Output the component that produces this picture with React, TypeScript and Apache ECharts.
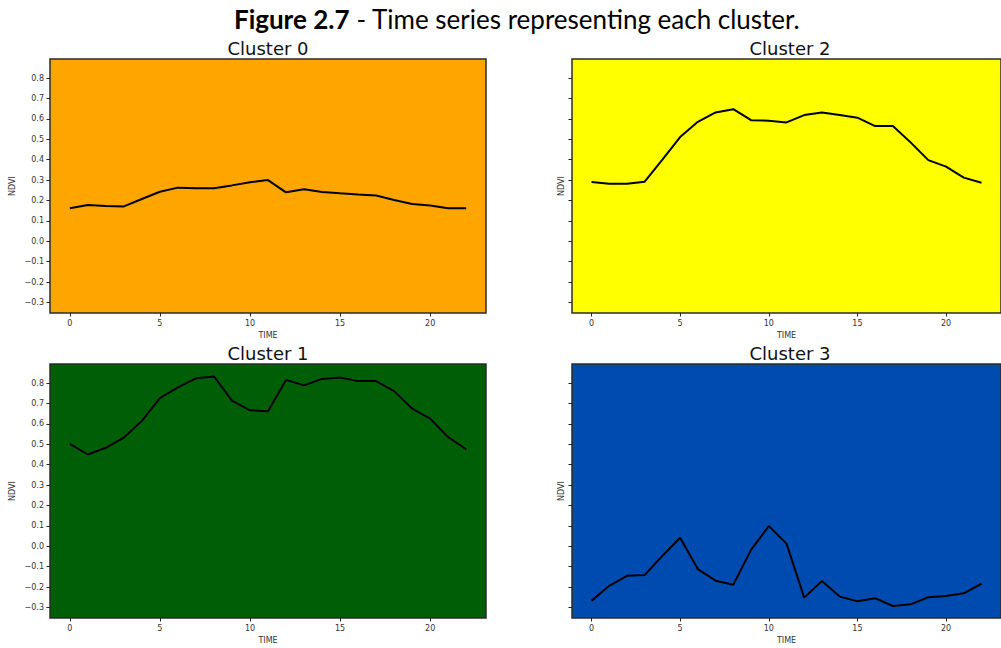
import React, { useEffect, useRef } from "react";
import * as echarts from "echarts";

const time: number[] = Array.from({ length: 23 }, (_, i) => i);
const clusterNames = ["Cluster 0", "Cluster 2", "Cluster 1", "Cluster 3"];
const panelColors = ["#FFA500", "#FFFF00", "#005F06", "#004BB0"];

const cluster0 = [0.162, 0.178, 0.173, 0.171, 0.207, 0.243, 0.263, 0.26, 0.26, 0.274, 0.289, 0.3, 0.24, 0.255, 0.242, 0.235, 0.229, 0.224, 0.202, 0.183, 0.175, 0.162, 0.162];
const cluster2 = [0.291, 0.282, 0.282, 0.292, 0.4, 0.511, 0.586, 0.632, 0.648, 0.594, 0.591, 0.583, 0.619, 0.632, 0.619, 0.606, 0.565, 0.565, 0.485, 0.398, 0.366, 0.312, 0.287];
const cluster1 = [0.502, 0.45, 0.483, 0.533, 0.615, 0.727, 0.779, 0.824, 0.833, 0.714, 0.667, 0.662, 0.816, 0.789, 0.821, 0.828, 0.81, 0.81, 0.761, 0.675, 0.626, 0.535, 0.476];
const cluster3 = [-0.268, -0.194, -0.145, -0.141, -0.047, 0.042, -0.112, -0.169, -0.189, -0.018, 0.099, 0.013, -0.252, -0.171, -0.247, -0.27, -0.255, -0.293, -0.285, -0.25, -0.244, -0.231, -0.184];

const xTicks = [0, 5, 10, 15, 20];
const yTicks = [-0.3, -0.2, -0.1, 0.0, 0.1, 0.2, 0.3, 0.4, 0.5, 0.6, 0.7, 0.8];
const xRange = [-1.1, 23.1];
const yRange = [-0.352, 0.894];

const seriesData = [cluster0, cluster2, cluster1, cluster3];

export default function App() {
  const ref = useRef<HTMLDivElement>(null);
  useEffect(() => {
    if (!ref.current) return;
    const chart = echarts.init(ref.current, undefined, { renderer: "svg" });
    const grids = [
      { left: 50, top: 59, width: 436, height: 254 },
      { left: 572, top: 59, width: 436, height: 254 },
      { left: 50, top: 364, width: 436, height: 254 },
      { left: 572, top: 364, width: 436, height: 254 },
    ];
    const titleCenters = [
      { x: 268, y: 48 },
      { x: 790, y: 48 },
      { x: 268, y: 353 },
      { x: 790, y: 353 },
    ];
    const tickColor = "#222";
    const labelStyle = { color: "#333", fontSize: 8, fontFamily: "DejaVu Sans" };
    const fmt = (v: number) => {
      const s = (Math.round(v * 10) / 10).toFixed(1);
      return s.replace("-", "\u2212");
    };
    const option: any = {
      animation: false,
      backgroundColor: "#ffffff",
      grid: grids.map((g, i) => ({
        ...g,
        show: true,
        backgroundColor: panelColors[i],
        borderColor: "#2b2b2b",
        borderWidth: 1.5,
        containLabel: false,
      })),
      xAxis: grids.map((_, i) => ({
        type: "value",
        gridIndex: i,
        position: "bottom",
        min: xRange[0],
        max: xRange[1],
        name: "TIME",
        nameLocation: "middle",
        nameGap: 18,
        nameTextStyle: { color: "#333", fontSize: 8, fontFamily: "DejaVu Sans" },
        axisLine: { show: false, onZero: false },
        axisTick: { show: true, inside: false, customValues: xTicks, length: 3.5, lineStyle: { color: tickColor, width: 1 } },
        axisLabel: { customValues: xTicks, margin: 6, ...labelStyle },
        splitLine: { show: false },
      })),
      yAxis: grids.map((_, i) => ({
        type: "value",
        gridIndex: i,
        position: "left",
        min: yRange[0],
        max: yRange[1],
        name: "NDVI",
        nameLocation: "middle",
        nameGap: i % 2 === 0 ? 34 : 7,
        nameTextStyle: { color: "#333", fontSize: 8, fontFamily: "DejaVu Sans" },
        axisLine: { show: false, onZero: false },
        axisTick: { show: true, inside: false, customValues: yTicks, length: 3.5, lineStyle: { color: tickColor, width: 1 } },
        axisLabel: {
          show: i % 2 === 0,
          customValues: yTicks,
          margin: 6,
          formatter: (v: number) => fmt(v),
          ...labelStyle,
        },
        splitLine: { show: false },
      })),
      series: seriesData.map((d, i) => ({
        type: "line",
        xAxisIndex: i,
        yAxisIndex: i,
        data: d.map((v, k) => [time[k], v]),
        showSymbol: false,
        symbol: "none",
        lineStyle: { color: "#000", width: 2 },
        clip: true,
      })),
      graphic: [
        {
          type: "text",
          x: 517,
          y: 19,
          style: {
            text: "{b|Figure 2.7} - Time series representing each cluster.",
            rich: {
              b: { fontWeight: "bold", fontSize: 26, fontFamily: "Lato", fill: "#000" },
            },
            fontSize: 26,
            fontFamily: "Lato",
            fill: "#000",
            align: "center",
            verticalAlign: "middle",
          },
        },
        ...clusterNames.map((n, i) => ({
          type: "text",
          x: titleCenters[i].x,
          y: titleCenters[i].y,
          style: {
            text: n,
            fontSize: 18,
            fontFamily: "DejaVu Sans",
            fill: "#111",
            align: "center",
            verticalAlign: "middle",
          },
        })),
      ],
    };
    chart.setOption(option);
    return () => chart.dispose();
  }, []);
  return (
    <div
      ref={ref}
      style={{ position: "absolute", left: 0, top: 0, width: 1001, height: 648 }}
    />
  );
}
